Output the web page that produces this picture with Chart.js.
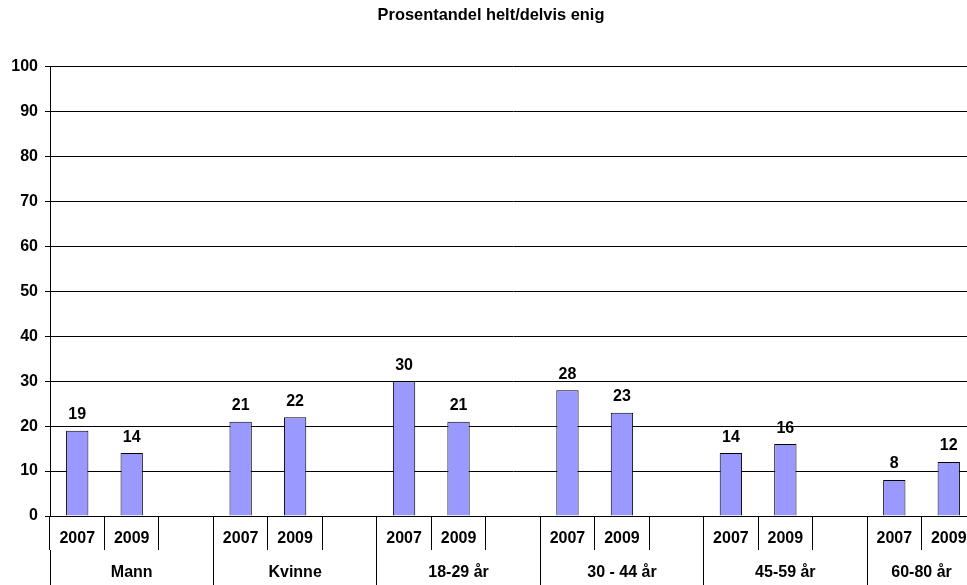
<!DOCTYPE html>
<html>
<head>
<meta charset="utf-8">
<script src="https://cdn.jsdelivr.net/npm/chart.js@4"></script>
<style>
  html, body { margin: 0; padding: 0; background: #fff; overflow: hidden; }
  #wrap { width: 980px; height: 585px; }
</style>
</head>
<body>
<div id="wrap"><canvas id="stage" width="980" height="585"></canvas></div>
<script>
// data
var groups = ['Mann', 'Kvinne', '18-29 år', '30 - 44 år', '45-59 år', '60-80 år'];
var years = ['2007', '2009'];
var values2007 = [19, 21, 30, 28, 14, 8];
var values2009 = [14, 22, 21, 23, 16, 12];
var yTicks = [0, 10, 20, 30, 40, 50, 60, 70, 80, 90, 100];

// category slots: 2007, 2009 and an empty gap after each group (not after the last)
var categories = [];
var values = [];
var groupBounds = [];   // slot index where each group starts / ends
var groupCenters = {};  // slot position -> group label
groups.forEach(function (g, i) {
  var start = categories.length;
  groupBounds.push(start);
  categories.push(years[0], years[1]);
  values.push(values2007[i], values2009[i]);
  if (i < groups.length - 1) {
    categories.push('');
    values.push(null);
  }
  var count = categories.length - start;
  groupCenters[start + count / 2] = g;
});
groupBounds.push(categories.length);

var outerTicks = groupBounds.concat(Object.keys(groupCenters).map(Number)).sort(function (a, b) { return a - b; });

var font16 = { family: 'Arial, "Liberation Sans", sans-serif', size: 16, weight: 'bold' };
Chart.defaults.font.family = 'Arial, "Liberation Sans", sans-serif';
Chart.defaults.color = '#000';

// numbers above the bars
var barLabels = {
  id: 'barLabels',
  afterDatasetsDraw: function (chart) {
    var ctx = chart.ctx;
    var meta = chart.getDatasetMeta(0);
    ctx.save();
    ctx.font = 'bold 16px Arial, "Liberation Sans", sans-serif';
    ctx.fillStyle = '#000';
    ctx.textAlign = 'center';
    ctx.textBaseline = 'middle';
    meta.data.forEach(function (bar, i) {
      var v = values[i];
      if (v == null) return;
      ctx.fillText(String(v), bar.x, bar.y - 16);
    });
    ctx.restore();
  }
};

// the picture is cut on the right, so centre the title on the visible part
var titleShift = {
  id: 'titleShift',
  afterLayout: function (chart) {
    if (chart.titleBlock) chart.titleBlock.right = 982;
  }
};

var canvas = document.getElementById('stage');
var chart = new Chart(canvas, {
  type: 'bar',
  data: {
    labels: categories,
    datasets: [{
      data: values,
      backgroundColor: '#9999FF',
      borderColor: '#000',
      borderWidth: 1,
      categoryPercentage: 1,
      barPercentage: 0.41
    }]
  },
  options: {
    responsive: false,
    animation: false,
    layout: { padding: { left: 0, right: 4, top: 0, bottom: 0 } },
    plugins: {
      legend: { display: false },
      tooltip: { enabled: false },
      title: {
        display: true,
        text: 'Prosentandel helt/delvis enig',
        color: '#000',
        font: { family: 'Arial, "Liberation Sans", sans-serif', size: 16.4, weight: 'bold' },
        padding: { top: 6, bottom: 41 }
      }
    },
    scales: {
      x: {
        type: 'category',
        position: 'bottom',
        weight: 0,
        offset: true,
        grid: { offset: true, drawOnChartArea: false, tickLength: 34, color: '#000', lineWidth: 1 },
        border: { color: '#000', width: 1 },
        ticks: { autoSkip: false, maxRotation: 0, minRotation: 0, font: font16, color: '#000', padding: -21 },
        afterFit: function (scale) { scale.height = 34; }
      },
      x2: {
        type: 'linear',
        axis: 'x',
        position: 'bottom',
        weight: 1,
        offset: false,
        min: 0,
        max: categories.length,
        afterBuildTicks: function (scale) {
          scale.ticks = outerTicks.map(function (v) { return { value: v }; });
        },
        grid: {
          offset: false,
          drawOnChartArea: false,
          tickLength: 35,
          color: function (c) {
            return c.tick && groupBounds.indexOf(c.tick.value) >= 0 ? '#000' : 'rgba(0,0,0,0)';
          }
        },
        border: { display: false },
        ticks: {
          autoSkip: false, maxRotation: 0, minRotation: 0, font: font16, color: '#000', padding: -22,
          callback: function (v) { return groupCenters[v] || ''; }
        },
        afterFit: function (scale) { scale.height = 35; }
      },
      y: {
        min: 0,
        max: 100,
        afterBuildTicks: function (scale) {
          scale.ticks = yTicks.map(function (v) { return { value: v }; });
        },
        grid: { color: '#000', tickLength: 5, lineWidth: 1 },
        border: { color: '#000', width: 1 },
        ticks: { font: font16, color: '#000', padding: 7 },
        afterFit: function (scale) { scale.width = 50; }
      }
    }
  },
  plugins: [barLabels, titleShift]
});
</script>
</body>
</html>
